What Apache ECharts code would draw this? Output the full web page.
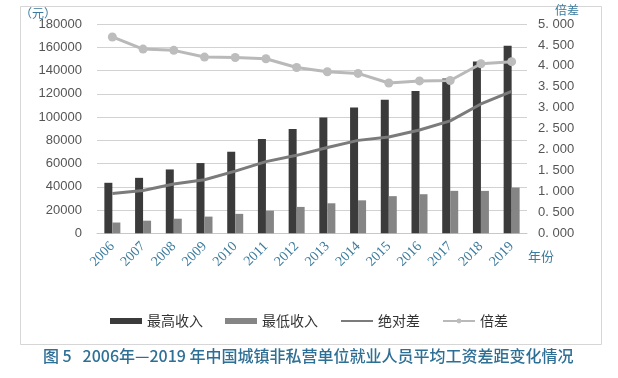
<!DOCTYPE html>
<html><head><meta charset="utf-8">
<script src="https://cdn.jsdelivr.net/npm/echarts@6/dist/echarts.min.js"></script>
<style>html,body{margin:0;padding:0;background:#fff}#c{width:618px;height:378px}</style>
</head><body><div id="c"></div>
<script>
var years = ['2006','2007','2008','2009','2010','2011','2012','2013','2014','2015','2016','2017','2018','2019'];
var highest = [43435,47700,54906,60398,70146,81109,89743,99653,108273,114777,122478,133150,147678,161352];
var lowest = [9269,10847,12560,14356,16717,19469,22687,25820,28356,31947,33612,36504,36466,39340];
var absDiff = [34166,36853,42346,46042,53429,61640,67056,73833,79917,82830,88866,96646,111212,122012];
var ratio = [4.69,4.40,4.37,4.21,4.20,4.17,3.96,3.86,3.82,3.59,3.64,3.65,4.05,4.10];
var leftTicks = [0,20000,40000,60000,80000,100000,120000,140000,160000,180000];
var rightTicks = ['0.000','0.500','1.000','1.500','2.000','2.500','3.000','3.500','4.000','4.500','5.000'];

var teal = '#3a7a9c';
var chart = echarts.init(document.getElementById('c'));
chart.setOption({
  animation: false,
  backgroundColor: '#fff',
  grid: {left: 97, right: 91, top: 24, bottom: 144.7},
  legend: {
    bottom: 45, left: 'center', itemWidth: 32, itemHeight: 6, itemGap: 22,
    textStyle: {fontSize: 14, color: '#333', fontFamily: 'Noto Sans CJK SC'},
    data: [
      {name: '最高收入', icon: 'rect'},
      {name: '最低收入', icon: 'rect'},
      {name: '绝对差', itemStyle: {opacity: 0}},
      {name: '倍差'}
    ]
  },
  xAxis: {
    type: 'category', data: years,
    axisLine: {lineStyle: {color: '#c8c8c8'}},
    axisTick: {show: false},
    axisLabel: {rotate: 45, color: teal, fontSize: 14, fontFamily: 'Liberation Serif', margin: 11}
  },
  yAxis: [
    {type: 'value', min: 0, max: 180000, interval: 20000,
     axisLine: {show: false}, axisTick: {show: false},
     splitLine: {lineStyle: {color: '#d2d2d2'}},
     axisLabel: {color: '#555', fontSize: 13, fontFamily: 'Liberation Sans', margin: 15,
       formatter: function(v){ var i = leftTicks.indexOf(v); return i >= 0 ? String(leftTicks[i]) : ''; }}},
    {type: 'value', min: 0, max: 5, interval: 0.5,
     axisLine: {show: false}, axisTick: {show: false}, splitLine: {show: false},
     axisLabel: {color: '#555', fontSize: 13, fontFamily: 'Liberation Sans', margin: 11,
       formatter: function(v){ return rightTicks[Math.round(v*2)].replace('.', '. '); }}}
  ],
  series: [
    {name: '最高收入', type: 'bar', data: highest, barWidth: 8, barGap: '0%', itemStyle: {color: '#3b3b3b'}},
    {name: '最低收入', type: 'bar', data: lowest, barWidth: 8, itemStyle: {color: '#858585'}},
    {name: '绝对差', type: 'line', data: absDiff, symbol: 'none', lineStyle: {color: '#7b7b7b', width: 3}, itemStyle: {color: '#7b7b7b'}},
    {name: '倍差', type: 'line', yAxisIndex: 1, data: ratio, symbol: 'circle', symbolSize: 9,
     lineStyle: {color: '#b9b9b9', width: 3}, itemStyle: {color: '#bdbdbd'}}
  ],
  graphic: [
    {type: 'rect', shape: {x: 20.5, y: 6.5, width: 581, height: 338}, style: {fill: null, stroke: '#d6d6d6', lineWidth: 1}, z: -1},
    {type: 'text', left: 20, top: 7, style: {text: '（元）', fill: teal, font: '12px "Noto Sans CJK SC"'}},
    {type: 'text', left: 555, top: 4, style: {text: '倍差', fill: teal, font: '12px "Noto Sans CJK SC"'}},
    {type: 'text', left: 528, top: 250, style: {text: '年份', fill: teal, font: '13px "Noto Sans CJK SC"'}},
    {type: 'text', left: 43, top: 348, style: {text: '图 5   2006年—2019 年中国城镇非私营单位就业人员平均工资差距变化情况', fill: '#2e6f95', font: '500 16px "Noto Sans CJK SC"'}}
  ]
});
</script></body></html>
